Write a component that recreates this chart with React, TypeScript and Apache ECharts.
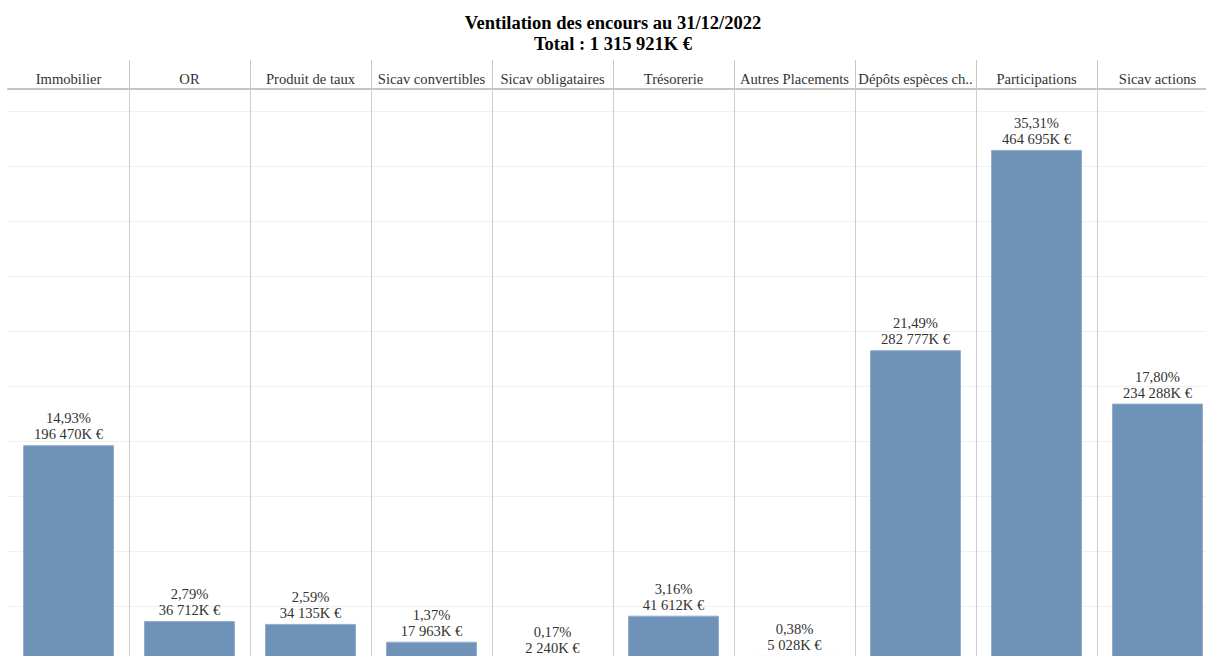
import React, { useEffect, useRef } from "react";
import * as echarts from "echarts";

const categories = [
  "Immobilier",
  "OR",
  "Produit de taux",
  "Sicav convertibles",
  "Sicav obligataires",
  "Trésorerie",
  "Autres Placements",
  "Dépôts espèces ch..",
  "Participations",
  "Sicav actions",
];
const amountsK = [196470, 36712, 34135, 17963, 2240, 41612, 5028, 282777, 464695, 234288];
const shares = ["14,93%", "2,79%", "2,59%", "1,37%", "0,17%", "3,16%", "0,38%", "21,49%", "35,31%", "17,80%"];
const totalK = 1315921;
const yMax = 520000;
const yStep = 50000;

const fmt = (n: number) => String(n).replace(/\B(?=(\d{3})+(?!\d))/g, " ");
const FONT = "'Liberation Serif', 'Times New Roman', serif";

export default function App() {
  const ref = useRef<HTMLDivElement>(null);
  useEffect(() => {
    if (!ref.current) return;
    const chart = echarts.init(ref.current, undefined, { renderer: "svg" });
    const skipFirst = (i: number) => i > 0;
    chart.setOption({
      animation: false,
      backgroundColor: "#ffffff",
      title: {
        text: `Ventilation des encours au 31/12/2022\nTotal : ${fmt(totalK)}K €`,
        left: "center",
        top: 7,
        textStyle: {
          fontFamily: FONT,
          fontWeight: "bold",
          fontSize: 18.5,
          lineHeight: 21,
          color: "#000000",
        },
      },
      grid: { left: 8, top: 89, width: 1210, height: 572.5 },
      xAxis: {
        type: "category",
        position: "top",
        z: 5,
        data: categories,
        axisLine: { show: true, onZero: false, lineStyle: { color: "#c4c4c4", width: 2 } },
        axisTick: { show: true, length: 29, interval: skipFirst, lineStyle: { color: "#c8c8c8", width: 1 } },
        axisLabel: {
          interval: 0,
          margin: 3,
          fontFamily: FONT,
          fontSize: 14.6,
          color: "#333333",
        },
        splitLine: { show: true, interval: skipFirst, lineStyle: { color: "#cccccc", width: 1 } },
      },
      yAxis: {
        type: "value",
        min: 0,
        max: yMax,
        interval: yStep,
        axisLine: { show: false },
        axisTick: { show: false },
        axisLabel: { show: false },
        splitLine: { show: true, lineStyle: { color: "#f0f0f0", width: 1 } },
      },
      series: [
        {
          type: "bar",
          data: amountsK,
          barWidth: 91,
          itemStyle: { color: "#6f92b9", borderColor: "#93aecd", borderWidth: 1 },
          label: {
            show: true,
            position: "top",
            distance: 3,
            formatter: (p: any) => `${shares[p.dataIndex]}\n${fmt(amountsK[p.dataIndex])}K €`,
            fontFamily: FONT,
            fontSize: 14.6,
            lineHeight: 16,
            color: "#333333",
          },
        },
      ],
    });
    return () => chart.dispose();
  }, []);
  return (
    <div style={{ position: "fixed", left: 0, top: 0, width: 1206, height: 656, overflow: "hidden", background: "#fff" }}>
      <div ref={ref} style={{ width: 1226, height: 680 }} />
    </div>
  );
}
